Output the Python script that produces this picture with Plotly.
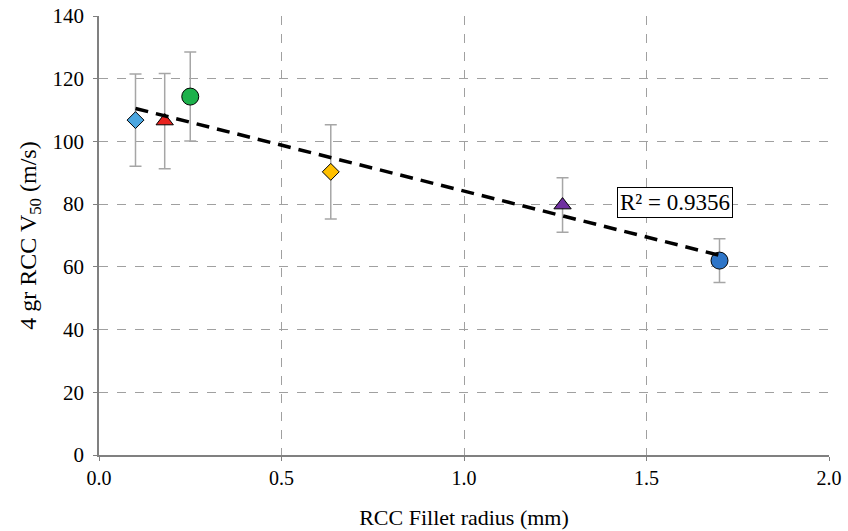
import numpy as np
import plotly.graph_objects as go

# Fillet radius (mm), V50 (m/s) and its scatter for each specimen
radius = [0.10, 0.18, 0.25, 0.635, 1.27, 1.70]
v50 = [106.8, 106.5, 114.3, 90.3, 79.7, 62.0]
v50_err = [14.7, 15.2, 14.2, 15.0, 8.7, 7.0]
symbols = ["diamond", "triangle-up", "circle", "diamond", "triangle-up", "circle"]
colors = ["#4BA6E0", "#E8231F", "#1DB14B", "#FFC000", "#7030A0", "#2E75C8"]
sizes = [13, 15, 17, 13, 15, 17]

r2_label = "R² = 0.9356"
x_ticks = [0.0, 0.5, 1.0, 1.5, 2.0]
y_ticks = [0, 20, 40, 60, 80, 100, 120, 140]

FONT = "Liberation Serif"

fig = go.Figure()

for i in range(len(radius)):
    fig.add_trace(go.Scatter(
        x=[radius[i]], y=[v50[i]], mode="markers",
        marker=dict(symbol=symbols[i], color=colors[i], size=sizes[i],
                    line=dict(color="black", width=1)),
        error_y=dict(type="data", array=[v50_err[i]], color="#A6A6A6",
                     thickness=1.5, width=6),
        showlegend=False,
    ))

# Least-squares linear trend over the measured range
slope, intercept = np.polyfit(radius, v50, 1)
xt = np.array([min(radius), max(radius)])
fig.add_trace(go.Scatter(
    x=xt, y=slope * xt + intercept, mode="lines",
    line=dict(color="black", width=3.5, dash="13px,8px"),
    showlegend=False,
))

fig.add_annotation(
    x=1.578, y=80.4, xref="x", yref="y", text=r2_label, showarrow=False,
    font=dict(family=FONT, size=23, color="black"),
    bordercolor="black", borderwidth=1, borderpad=2, bgcolor="white",
)

axis_common = dict(
    showline=True, linecolor="#808080", linewidth=1.5,
    ticks="outside", ticklen=4, tickcolor="#808080",
    showgrid=True, gridcolor="#A0A0A0", griddash="dash", gridwidth=1,
    zeroline=False, automargin=False,
)

fig.update_xaxes(range=[0, 2], tickvals=x_ticks, tickformat=".1f",
                 tickfont=dict(family=FONT, size=20, color="black"),
                 title=dict(text="RCC Fillet radius (mm)",
                            font=dict(family=FONT, size=22, color="black"),
                            standoff=22),
                 **axis_common)
fig.update_yaxes(range=[0, 140], tickvals=y_ticks,
                 tickfont=dict(family=FONT, size=21, color="black"),
                 ticklabelstandoff=5,
                 title=dict(text="4 gr RCC V<sub>50</sub> (m/s)",
                            font=dict(family=FONT, size=24, color="black"),
                            standoff=9),
                 **axis_common)

fig.update_layout(
    width=848, height=531,
    margin=dict(l=99, r=19, t=16, b=76),
    plot_bgcolor="white", paper_bgcolor="white",
)

fig.write_html("out.html")
